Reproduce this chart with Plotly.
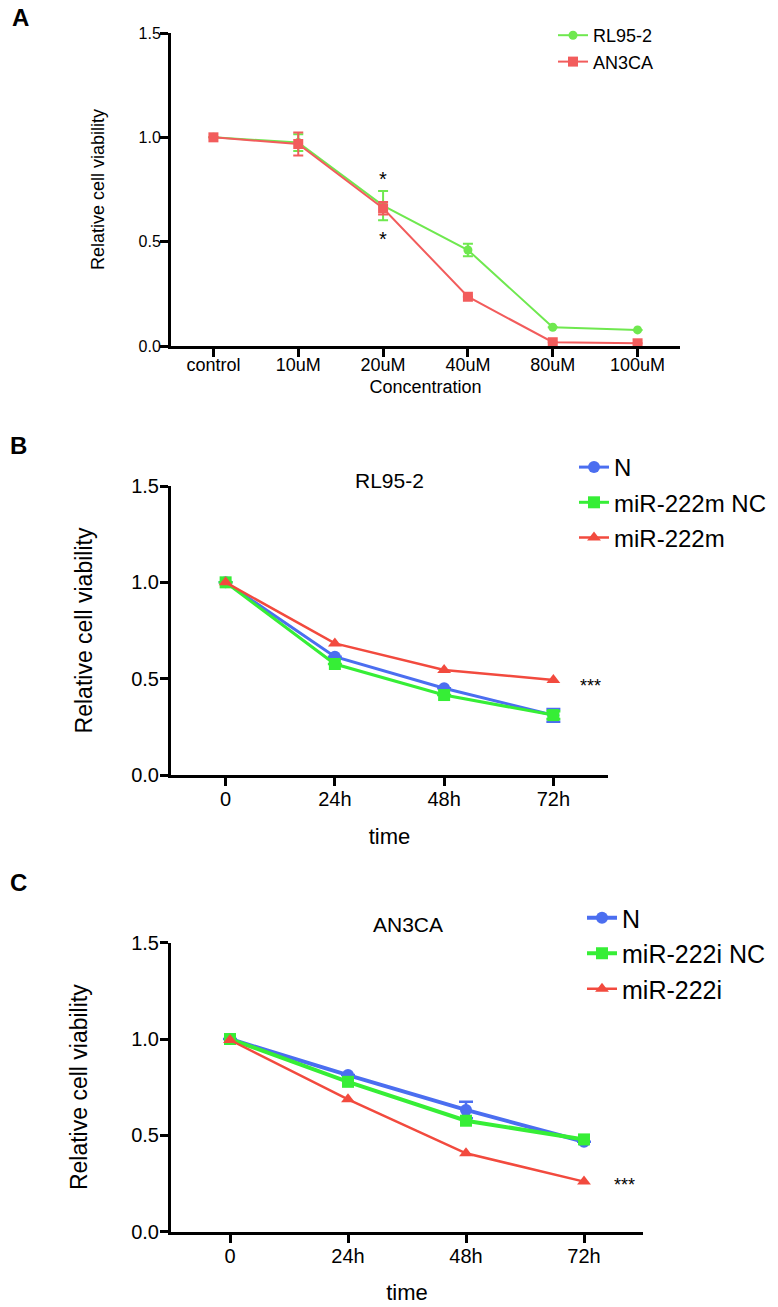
import plotly.graph_objects as go

# ---------------- data ----------------
conc_labels = ["control", "10uM", "20uM", "40uM", "80uM", "100uM"]
rl95_vals = [1.0, 0.975, 0.673, 0.46, 0.09, 0.077]
rl95_err = [0.0, 0.04, 0.07, 0.03, 0.0, 0.0]
an3ca_vals = [1.0, 0.968, 0.66, 0.236, 0.018, 0.013]
an3ca_err = [0.0, 0.055, 0.03, 0.0, 0.0, 0.0]

time_labels = ["0", "24h", "48h", "72h"]
b_n_vals = [1.0, 0.614, 0.45, 0.31]
b_n_err = [0.0, 0.0, 0.0, 0.033]
b_nc_vals = [1.0, 0.576, 0.415, 0.311]
b_nc_err = [0.0, 0.0, 0.0, 0.02]
b_m_vals = [1.0, 0.683, 0.545, 0.493]

c_n_vals = [1.0, 0.813, 0.632, 0.467]
c_n_err = [0.0, 0.0, 0.043, 0.0]
c_nc_vals = [1.0, 0.778, 0.576, 0.479]
c_i_vals = [0.995, 0.687, 0.407, 0.26]

FONT = "Liberation Sans, Arial, sans-serif"
A_GREEN = "#6FE84F"
A_RED = "#F25C5C"
BLUE = "#4B6EF0"
GREEN = "#36EE36"
RED = "#F24A3E"

W, H = 778, 1307


def px_x(p):
    return p / W


def px_y(p):
    return 1 - p / H


fig = go.Figure()
xa = list(range(len(conc_labels)))
xt = list(range(len(time_labels)))

# Panel A
fig.add_trace(go.Scatter(x=xa, y=rl95_vals, name="RL95-2", mode="lines+markers",
                         line=dict(color=A_GREEN, width=2),
                         marker=dict(symbol="circle", size=9, color=A_GREEN),
                         error_y=dict(type="data", array=rl95_err, color=A_GREEN, thickness=2, width=5),
                         xaxis="x", yaxis="y", legend="legend", legendgroup="a1",
                         cliponaxis=False))
fig.add_trace(go.Scatter(x=xa, y=an3ca_vals, name="AN3CA", mode="lines+markers",
                         line=dict(color=A_RED, width=2),
                         marker=dict(symbol="square", size=10, color=A_RED),
                         error_y=dict(type="data", array=an3ca_err, color=A_RED, thickness=2, width=5),
                         xaxis="x", yaxis="y", legend="legend", legendgroup="a2",
                         cliponaxis=False))

# Panel B
fig.add_trace(go.Scatter(x=xt, y=b_n_vals, name="N", mode="lines+markers",
                         line=dict(color=BLUE, width=3),
                         marker=dict(symbol="circle", size=12, color=BLUE),
                         error_y=dict(type="data", array=b_n_err, color=BLUE, thickness=2.5, width=7),
                         xaxis="x2", yaxis="y2", legend="legend2", legendgroup="b1",
                         cliponaxis=False))
fig.add_trace(go.Scatter(x=xt, y=b_nc_vals, name="miR-222m NC", mode="lines+markers",
                         line=dict(color=GREEN, width=3),
                         marker=dict(symbol="square", size=12, color=GREEN),
                         error_y=dict(type="data", array=b_nc_err, color=GREEN, thickness=2.5, width=7),
                         xaxis="x2", yaxis="y2", legend="legend2", legendgroup="b2",
                         cliponaxis=False))
fig.add_trace(go.Scatter(x=xt, y=b_m_vals, name="miR-222m", mode="lines+markers",
                         line=dict(color=RED, width=2.5),
                         marker=dict(symbol="triangle-up", size=12, color=RED),
                         xaxis="x2", yaxis="y2", legend="legend2", legendgroup="b3",
                         cliponaxis=False))

# Panel C
fig.add_trace(go.Scatter(x=xt, y=c_n_vals, name="N", mode="lines+markers",
                         line=dict(color=BLUE, width=4),
                         marker=dict(symbol="circle", size=12, color=BLUE),
                         error_y=dict(type="data", array=c_n_err, color=BLUE, thickness=2.5, width=7),
                         xaxis="x3", yaxis="y3", legend="legend3", legendgroup="c1",
                         cliponaxis=False))
fig.add_trace(go.Scatter(x=xt, y=c_nc_vals, name="miR-222i NC", mode="lines+markers",
                         line=dict(color=GREEN, width=4),
                         marker=dict(symbol="square", size=12, color=GREEN),
                         xaxis="x3", yaxis="y3", legend="legend3", legendgroup="c2",
                         cliponaxis=False))
fig.add_trace(go.Scatter(x=xt, y=c_i_vals, name="miR-222i", mode="lines+markers",
                         line=dict(color=RED, width=2.5),
                         marker=dict(symbol="triangle-up", size=12, color=RED),
                         xaxis="x3", yaxis="y3", legend="legend3", legendgroup="c3",
                         cliponaxis=False))

common_ax = dict(showline=True, linecolor="black", linewidth=3, ticks="outside",
                 ticklen=8, tickwidth=2.5, tickcolor="black", showgrid=False,
                 zeroline=False, fixedrange=True, automargin=False)

yt = dict(range=[0, 1.5], tickvals=[0, 0.5, 1.0, 1.5], tickformat=".1f")

fig.update_layout(
    width=W, height=H,
    margin=dict(l=0, r=0, t=0, b=0, pad=0),
    plot_bgcolor="white", paper_bgcolor="white",
    font=dict(family=FONT, color="black"),
    # Panel A axes
    xaxis=dict(domain=[px_x(171), px_x(680)], range=[-0.5, 5.5], tickvals=xa, ticktext=conc_labels,
               tickfont=dict(size=18), anchor="y", ticklabelstandoff=-8,
               title=dict(text="Concentration", font=dict(size=18), standoff=7), **common_ax),
    yaxis=dict(domain=[px_y(346), px_y(33)], anchor="x", tickfont=dict(size=16), ticklabelstandoff=-4,
               title=dict(text="Relative cell viability", font=dict(size=18), standoff=30), **yt, **common_ax),
    # Panel B axes
    xaxis2=dict(domain=[px_x(171), px_x(608)], range=[-0.5, 3.5], tickvals=xt, ticktext=time_labels,
                tickfont=dict(size=20), anchor="y2", ticklabelstandoff=-4,
                title=dict(text="time", font=dict(size=22), standoff=20), **common_ax),
    yaxis2=dict(domain=[px_y(775), px_y(486)], anchor="x2", tickfont=dict(size=20), ticklabelstandoff=-3,
                title=dict(text="Relative cell viability", font=dict(size=23), standoff=33), **yt, **common_ax),
    # Panel C axes
    xaxis3=dict(domain=[px_x(171), px_x(643)], range=[-0.5, 3.5], tickvals=xt, ticktext=time_labels,
                tickfont=dict(size=20), anchor="y3", ticklabelstandoff=-4,
                title=dict(text="time", font=dict(size=22), standoff=19), **common_ax),
    yaxis3=dict(domain=[px_y(1231.7), px_y(942.7)], anchor="x3", tickfont=dict(size=20), ticklabelstandoff=-3,
                title=dict(text="Relative cell viability", font=dict(size=23), standoff=38), **yt, **common_ax),
    legend=dict(x=px_x(553), y=px_y(17), xanchor="left", yanchor="top",
                font=dict(size=18), bgcolor="rgba(0,0,0,0)", traceorder="grouped", tracegroupgap=0),
    legend2=dict(x=px_x(574), y=px_y(445), xanchor="left", yanchor="top",
                 font=dict(size=24), bgcolor="rgba(0,0,0,0)", traceorder="grouped", tracegroupgap=1),
    legend3=dict(x=px_x(582), y=px_y(895), xanchor="left", yanchor="top",
                 font=dict(size=25), bgcolor="rgba(0,0,0,0)", traceorder="grouped", tracegroupgap=0),
)

annotations = [
    dict(text="<b>A</b>", x=px_x(20), y=px_y(18), xref="paper", yref="paper", showarrow=False,
         font=dict(size=24), xanchor="center", yanchor="middle", borderpad=0),
    dict(text="<b>B</b>", x=px_x(18), y=px_y(445), xref="paper", yref="paper", showarrow=False,
         font=dict(size=24), xanchor="center", yanchor="middle", borderpad=0),
    dict(text="<b>C</b>", x=px_x(18), y=px_y(882), xref="paper", yref="paper", showarrow=False,
         font=dict(size=24), xanchor="center", yanchor="middle", borderpad=0),
    dict(text="RL95-2", x=px_x(389), y=px_y(480), xref="paper", yref="paper", showarrow=False,
         font=dict(size=21), xanchor="center", yanchor="middle"),
    dict(text="AN3CA", x=px_x(408), y=px_y(925), xref="paper", yref="paper", showarrow=False,
         font=dict(size=21), xanchor="center", yanchor="middle"),
    dict(text="*", x=2, y=0.80, xref="x", yref="y", showarrow=False, font=dict(size=20)),
    dict(text="*", x=2, y=0.515, xref="x", yref="y", showarrow=False, font=dict(size=20)),
    dict(text="***", x=3.34, y=0.46, xref="x2", yref="y2", showarrow=False, font=dict(size=18)),
    dict(text="***", x=3.34, y=0.24, xref="x3", yref="y3", showarrow=False, font=dict(size=18)),
]
fig.update_layout(annotations=annotations)

post = (
    "document.documentElement.style.margin='0';"
    "document.documentElement.style.overflow='hidden';"
    "document.body.style.margin='0';"
    "document.body.style.overflow='hidden';"
    "var g=document.getElementById('{plot_id}');"
    "g.style.position='absolute';g.style.left='0px';g.style.top='0px';"
)
fig.write_html("out.html", config={"displayModeBar": False}, post_script=post)
